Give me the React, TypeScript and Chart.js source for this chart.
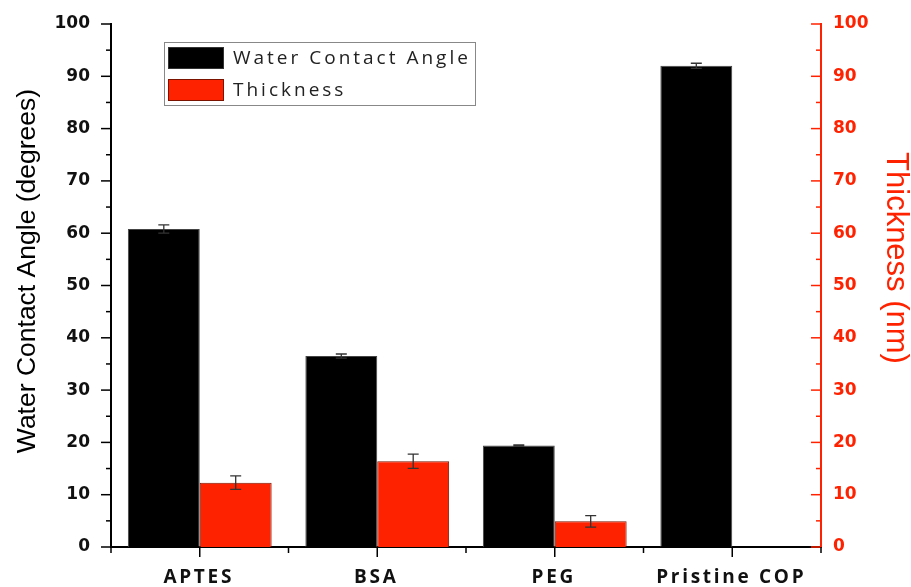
import React, { useEffect, useRef } from "react";
import { Chart, registerables } from "chart.js";

Chart.register(...registerables);

const categories = ["APTES", "BSA", "PEG", "Pristine COP"];
const contactAngle = [60.8, 36.5, 19.4, 92.0];
const contactAngleErr = [0.8, 0.4, 0.1, 0.5];
const thickness = [12.3, 16.4, 4.9, 0];
const thicknessErr = [1.3, 1.35, 1.1, 0];
const seriesNames = ["Water Contact Angle", "Thickness"];
const yTitleLeft = "Water Contact Angle (degrees)";
const yTitleRight = "Thickness (nm)";

const BLACK = "#000000";
const RED = "#ff2200";

const decorPlugin = {
  id: "decor",
  afterDatasetsDraw(chart: any) {
    const ctx = chart.ctx;
    const errs = [contactAngleErr, thicknessErr];
    const vals = [contactAngle, thickness];
    chart.data.datasets.forEach((ds: any, di: number) => {
      const meta = chart.getDatasetMeta(di);
      const scale = chart.scales[ds.yAxisID];
      meta.data.forEach((bar: any, i: number) => {
        const e = errs[di][i];
        if (!e) return;
        const v = vals[di][i];
        const yTop = scale.getPixelForValue(v + e);
        const yBot = scale.getPixelForValue(v - e);
        const x = bar.x;
        ctx.save();
        ctx.strokeStyle = "#333333";
        ctx.lineWidth = 1.3;
        ctx.beginPath();
        ctx.moveTo(x, yTop);
        ctx.lineTo(x, yBot);
        ctx.moveTo(x - 5.5, yTop);
        ctx.lineTo(x + 5.5, yTop);
        ctx.moveTo(x - 5.5, yBot);
        ctx.lineTo(x + 5.5, yBot);
        ctx.stroke();
        ctx.restore();
      });
    });
  },
  afterDraw(chart: any) {
    const ctx = chart.ctx;
    const { y, y1, x } = chart.scales;
    const area = chart.chartArea;
    ctx.save();
    ctx.lineCap = "butt";
    ctx.strokeStyle = BLACK;
    ctx.lineWidth = 1.5;
    for (let v = 0; v <= 100; v += 5) {
      const p = y.getPixelForValue(v);
      const len = v % 10 === 0 ? 10 : 5;
      ctx.beginPath();
      ctx.moveTo(area.left - len, p);
      ctx.lineTo(area.left, p);
      ctx.stroke();
    }
    ctx.strokeStyle = RED;
    for (let v = 0; v <= 100; v += 5) {
      const p = y1.getPixelForValue(v);
      const len = v % 10 === 0 ? 10 : 5;
      ctx.beginPath();
      ctx.moveTo(area.right - len, p);
      ctx.lineTo(area.right, p);
      ctx.stroke();
    }
    ctx.strokeStyle = BLACK;
    const n = categories.length;
    const centers = categories.map((_, i) => x.getPixelForTick(i));
    const half = (centers[1] - centers[0]) / 2;
    centers.forEach((c) => {
      ctx.beginPath();
      ctx.moveTo(c, area.bottom);
      ctx.lineTo(c, area.bottom + 10);
      ctx.stroke();
    });
    for (let i = 0; i <= n; i++) {
      const b = i < n ? centers[i] - half : centers[n - 1] + half;
      ctx.beginPath();
      ctx.moveTo(b, area.bottom);
      ctx.lineTo(b, area.bottom + 6);
      ctx.stroke();
    }
    ctx.fillStyle = "#111111";
    ctx.font = "bold 19px 'Open Sans'";
    (ctx as any).letterSpacing = "2.7px";
    ctx.textAlign = "center";
    ctx.textBaseline = "middle";
    categories.forEach((c, i) => {
      ctx.fillText(c, centers[i] - 1, area.bottom + 31);
    });
    (ctx as any).letterSpacing = "0px";

    ctx.save();
    ctx.translate(28, 271);
    ctx.rotate(-Math.PI / 2);
    ctx.fillStyle = BLACK;
    ctx.font = "26.5px 'Liberation Sans'";
    ctx.textAlign = "center";
    ctx.textBaseline = "middle";
    ctx.fillText(yTitleLeft, 0, 0);
    ctx.restore();

    ctx.save();
    ctx.translate(896, 258);
    ctx.rotate(Math.PI / 2);
    ctx.fillStyle = RED;
    ctx.font = "31px 'Liberation Sans'";
    ctx.textAlign = "center";
    ctx.textBaseline = "middle";
    ctx.fillText(yTitleRight, 0, 0);
    ctx.restore();

    ctx.fillStyle = "#ffffff";
    ctx.fillRect(164, 42, 311, 63);
    ctx.strokeStyle = "#888888";
    ctx.lineWidth = 1;
    ctx.strokeRect(164.5, 42.5, 311, 63);
    const sw = [
      { fill: BLACK, stroke: "#333333" },
      { fill: RED, stroke: "#7a1400" },
    ];
    seriesNames.forEach((name, i) => {
      const top = 47 + i * 32;
      ctx.fillStyle = sw[i].fill;
      ctx.fillRect(168, top, 56, 22);
      ctx.strokeStyle = sw[i].stroke;
      ctx.strokeRect(168.5, top + 0.5, 55, 21);
      ctx.fillStyle = "#222222";
      ctx.font = "19px 'Open Sans'";
      (ctx as any).letterSpacing = "3px";
      ctx.textAlign = "left";
      ctx.textBaseline = "middle";
      ctx.fillText(name, 233, top + 12);
      (ctx as any).letterSpacing = "0px";
    });
    ctx.restore();
  },
};

export default function App() {
  const ref = useRef<HTMLCanvasElement | null>(null);
  useEffect(() => {
    if (!ref.current) return;
    const chart = new Chart(ref.current, {
      type: "bar",
      data: {
        labels: categories,
        datasets: [
          {
            label: seriesNames[0],
            data: contactAngle,
            backgroundColor: BLACK,
            borderColor: "#444444",
            borderWidth: 1,
            yAxisID: "y",
          },
          {
            label: seriesNames[1],
            data: thickness,
            backgroundColor: RED,
            borderColor: "#7a1400",
            borderWidth: 1,
            yAxisID: "y1",
          },
        ],
      },
      options: {
        animation: false,
        responsive: false,
        maintainAspectRatio: false,
        layout: { padding: { top: 24, left: 0, right: 0, bottom: 0 } },
        datasets: { bar: { categoryPercentage: 0.81, barPercentage: 1.0 } },
        plugins: { legend: { display: false }, tooltip: { enabled: false } },
        scales: {
          x: {
            type: "category",
            offset: true,
            grid: { display: false, drawTicks: false },
            border: { display: true, color: BLACK, width: 2 },
            ticks: { display: false },
            afterFit: (s: any) => {
              s.height = 40;
              s.paddingLeft = 0;
              s.paddingRight = 0;
            },
          },
          y: {
            type: "linear",
            position: "left",
            min: 0,
            max: 100,
            grid: { display: false, drawTicks: false },
            border: { display: true, color: BLACK, width: 2 },
            ticks: {
              stepSize: 10,
              padding: 21,
              color: "#111111",
              font: { family: "'DejaVu Sans'", weight: "bold", size: 17 },
            },
            afterFit: (s: any) => {
              s.width = 111;
              s.paddingTop = 0;
              s.paddingBottom = 0;
            },
          },
          y1: {
            type: "linear",
            position: "right",
            min: 0,
            max: 100,
            grid: { display: false, drawTicks: false },
            border: { display: true, color: RED, width: 2 },
            ticks: {
              stepSize: 10,
              padding: 12,
              color: RED,
              font: { family: "'DejaVu Sans'", weight: "bold", size: 17 },
            },
            afterFit: (s: any) => {
              s.width = 90;
              s.paddingTop = 0;
              s.paddingBottom = 0;
            },
          },
        },
      } as any,
      plugins: [decorPlugin],
    });
    return () => chart.destroy();
  }, []);
  return (
    <div style={{ position: "absolute", left: 0, top: 0, width: 911, height: 587, background: "#fff" }}>
      <canvas ref={ref} width={911} height={587} style={{ width: 911, height: 587 }} />
    </div>
  );
}
